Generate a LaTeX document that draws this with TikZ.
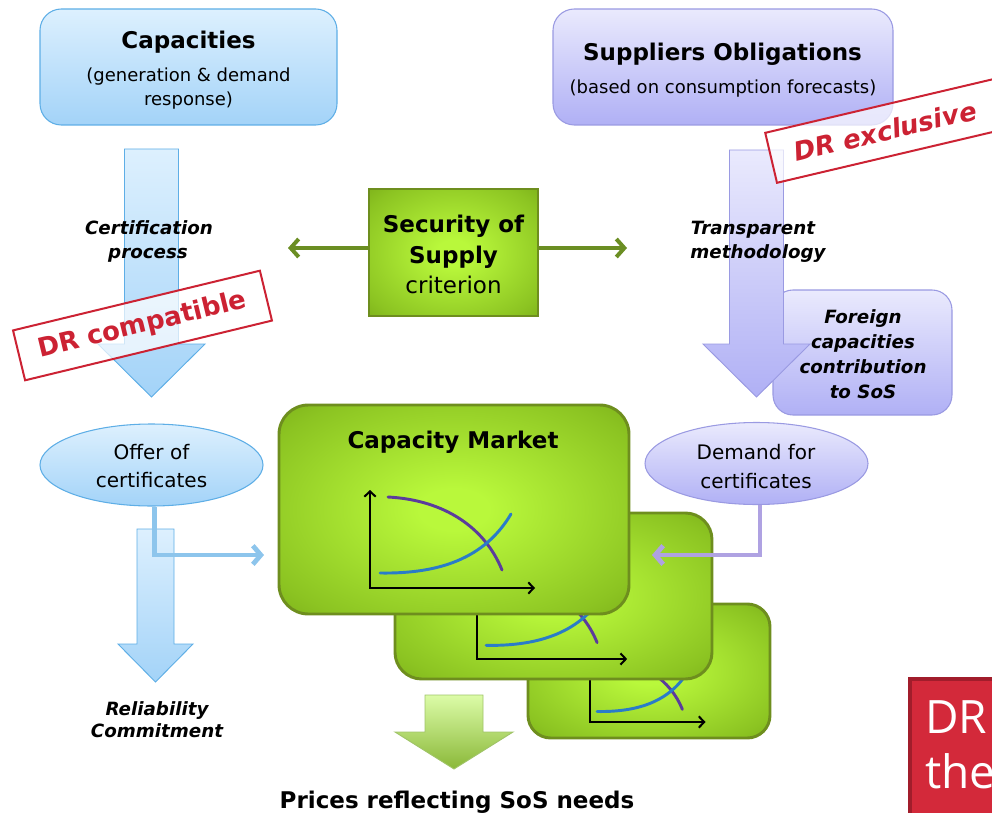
\documentclass[tikz,border=0pt]{standalone}
\usepackage{fontspec}
\setmainfont{DejaVu Sans}
\newfontfamily\segoe{Open Sans}
\usetikzlibrary{shapes.geometric,arrows.meta}

\definecolor{bluetop}{HTML}{DDF0FE}
\definecolor{bluebot}{HTML}{A3D3F8}
\definecolor{blueedge}{HTML}{5EAEE6}
\definecolor{lavtop}{HTML}{EAEAFD}
\definecolor{lavbot}{HTML}{B0B0F5}
\definecolor{lavedge}{HTML}{9A9AE2}
\definecolor{grin}{HTML}{B9F83B}
\definecolor{grmid}{HTML}{8CC422}
\definecolor{grout}{HTML}{68970F}
\definecolor{gredge}{HTML}{6E8E1E}
\definecolor{olivearrow}{HTML}{6B8E23}
\definecolor{stampred}{HTML}{CC2233}
\definecolor{offerline}{HTML}{8DC5EC}
\definecolor{demandline}{HTML}{AFA2E2}
\definecolor{curvepur}{HTML}{5B3C9C}
\definecolor{curveblu}{HTML}{2A7CC8}
\definecolor{boxred}{HTML}{D3293A}
\definecolor{boxredd}{HTML}{A11D2B}
\definecolor{gatop}{HTML}{DCFCA8}
\definecolor{gabot}{HTML}{8AB838}
\definecolor{gaedge}{HTML}{A0C468}

\pgfdeclareradialshading{greenglow}{\pgfpoint{0bp}{0bp}}{color(0bp)=(grin); color(5bp)=(grin); color(30bp)=(grmid); color(46bp)=(grout); color(72bp)=(grout)}

\newcommand\fhead{\fontsize{17.25}{21}\selectfont\bfseries}
\newcommand\fsub{\fontsize{13.5}{18}\selectfont}
\newcommand\fell{\fontsize{15}{20}\selectfont}
\newcommand\flab{\fontsize{13.7}{18}\selectfont\bfseries\itshape}
\newcommand\fstamp{\fontsize{19.5}{23}\selectfont\bfseries}

\newcommand\mychart[3]{%
  \begin{scope}[shift={(#1,#2)}, scale=#3]
    \draw[axisline] (0,-98) -- (0,0) -- (165,0);
    \draw[purcurve] (18,-91) .. controls (75,-88) and (115,-60) .. (132,-18);
    \draw[blucurve] (10,-15) .. controls (70,-14) and (115,-30) .. (141,-74);
  \end{scope}}

\tikzset{
  t/.style={anchor=base, inner sep=0pt},
  bluebox/.style={draw=blueedge, line width=0.8pt, top color=bluetop, bottom color=bluebot, inner sep=0pt},
  lavbox/.style={draw=lavedge, line width=0.8pt, top color=lavtop, bottom color=lavbot, inner sep=0pt},
  greenbox/.style={draw=gredge, line width=2.2pt, shading=greenglow, inner sep=0pt},
  bluearrow/.style={draw=blueedge, line width=0.7pt, top color=bluetop, bottom color=bluebot},
  lavarrow/.style={draw=lavedge, line width=0.7pt, top color=lavtop, bottom color=lavbot},
  greenarrow/.style={draw=gaedge, line width=0.7pt, top color=gatop, bottom color=gabot},
  stampbox/.style={draw=stampred, line width=1.5pt, fill=white, fill opacity=0.7, text opacity=1,
    text=stampred, font=\fstamp, inner sep=0pt, minimum height=38.5pt},
  sosarrow/.style={draw=olivearrow, line width=3pt, -{Straight Barb[length=6pt,width=13.5pt]}},
  offconn/.style={draw=offerline, line width=3.6pt, -{Straight Barb[length=6pt,width=14pt]}},
  demconn/.style={draw=demandline, line width=3.6pt, -{Straight Barb[length=6pt,width=14pt]}},
  axisline/.style={draw=black, line width=1.5pt, {Straight Barb[length=4pt,width=8.5pt]}-{Straight Barb[length=4pt,width=8.5pt]}},
  purcurve/.style={draw=curvepur, line width=2.2pt, line cap=round},
  blucurve/.style={draw=curveblu, line width=2.2pt, line cap=round},
}

\begin{document}
\begin{tikzpicture}[x=0.75pt,y=-0.75pt]
\useasboundingbox (0,0) rectangle (992,813);
\clip (0,0) rectangle (992,813);

% ---- top boxes
\node[bluebox, rounded corners=16pt, minimum width=222.75pt, minimum height=87pt] (cap) at (188.5,67) {};
\node[t, font=\fhead] (capT) at (188.5,49) {Capacities};
\node[t, font=\fsub] (capS1) at (188.5,82) {(generation \& demand};
\node[t, font=\fsub] (capS2) at (188.5,106) {response)};

\node[lavbox, rounded corners=16pt, minimum width=255pt, minimum height=87pt] (sup) at (723,67) {};
\node[t, font=\fhead] (supT) at (722.5,61) {Suppliers Obligations};
\node[t, font=\fsub] (supS) at (723,94) {(based on consumption forecasts)};

% ---- left block arrow
\draw[bluearrow] (124.5,149) -- (178.5,149) -- (178.5,344) -- (205,344) -- (151.5,397) -- (98,344) -- (124.5,344) -- cycle;
\node[t, font=\flab] (cert1) at (149,234) {Certification};
\node[t, font=\flab] (cert2) at (148,258) {process};
\node[stampbox, rotate=13.6, minimum width=190.5pt] (drc) at (142.5,325.5) {DR compatible};

% ---- Security of supply
\node[greenbox, line width=1.6pt, minimum width=126.75pt, minimum height=95.25pt] (sos) at (453.5,252.5) {};
\node[t, font=\fhead] (sos1) at (453.5,232) {Security of};
\node[t, font=\fhead] (sos2) at (453.5,263) {Supply};
\node[t, font=\fontsize{17.25}{21}\selectfont] (sos3) at (453.5,293) {criterion};
\coordinate (sosL) at (288,248);
\coordinate (sosR) at (627,248);
\draw[sosarrow] (sosL -| sos.west) -- (sosL);
\draw[sosarrow] (sosR -| sos.east) -- (sosR);

% ---- right side
\node[lavbox, rounded corners=15pt, minimum width=134.25pt, minimum height=93.75pt] (foreign) at (862.5,352.5) {};
\draw[lavarrow] (729.5,150) -- (783.5,150) -- (783.5,344) -- (810,344) -- (756.5,397) -- (703,344) -- (729.5,344) -- cycle;
\node[t, font=\flab] (tr1) at (753,234) {Transparent};
\node[t, font=\flab] (tr2) at (758,258) {methodology};
\node[t, font=\flab] (fo1) at (863,323) {Foreign};
\node[t, font=\flab] (fo2) at (863,348) {capacities};
\node[t, font=\flab] (fo3) at (863,373) {contribution};
\node[t, font=\flab] (fo4) at (863,398) {to SoS};
\node[stampbox, rotate=13.25, minimum width=175.5pt, font=\fstamp\itshape] (dre) at (885,131) {DR exclusive};

% ---- ellipses
\node[ellipse, bluebox, minimum width=167.25pt, minimum height=61.5pt] (offer) at (151.5,465) {};
\node[t, font=\fell] (of1) at (151.5,459) {Offer of};
\node[t, font=\fell] (of2) at (151.5,487) {certificates};
\node[ellipse, lavbox, minimum width=167.25pt, minimum height=61.5pt] (demand) at (756.5,463.5) {};
\node[t, font=\fell] (de1) at (756,459) {Demand for};
\node[t, font=\fell] (de2) at (756,488) {certificates};

% ---- lower left arrow
\draw[bluearrow] (137,529) -- (174,529) -- (174,644) -- (193,644) -- (155.5,682) -- (118,644) -- (137,644) -- cycle;
\coordinate (offIn) at (264,555);
\draw[offconn] ([xshift=2.2pt]offer.south) |- (offIn);
\node[t, font=\flab] (rel1) at (157,715) {Reliability};
\node[t, font=\flab] (rel2) at (157,737) {Commitment};

% ---- capacity market cards
\node[greenbox, rounded corners=17pt, minimum width=181.5pt, minimum height=100.5pt] (cm3) at (649,671) {};
\mychart{590}{722}{0.7}
\node[greenbox, rounded corners=20pt, minimum width=237.75pt, minimum height=124.5pt] (cm2) at (553.5,596) {};
\mychart{477}{659}{0.91}
\node[greenbox, rounded corners=22pt, minimum width=262.5pt, minimum height=156.75pt] (cm1) at (454,509.5) {};
\mychart{370}{588}{1}
\node[t, font=\fhead] (cmT) at (453,448) {Capacity Market};

\coordinate (demIn) at (652,555);
\draw[demconn] ([xshift=2.6pt]demand.south) |- (demIn);

% ---- result arrow
\draw[greenarrow] (425,695) -- (483,695) -- (483,732) -- (513,732) -- (454,769) -- (395,732) -- (425,732) -- cycle;
\node[t, font=\fhead] (prices) at (457,808) {Prices reflecting SoS needs};

% ---- red box
\node[draw=boxredd, fill=boxred, line width=3pt, anchor=north west, minimum width=90pt, minimum height=110pt, inner sep=0pt] (redbox) at (908,677) {};
\node[t, anchor=base west, font=\segoe\fontsize{34.5}{40}\selectfont, text=white] (red1) at (925,733) {DR};
\node[t, anchor=base west, font=\segoe\fontsize{34.5}{40}\selectfont, text=white] (red2) at (925,788) {the};
\end{tikzpicture}
\end{document}
